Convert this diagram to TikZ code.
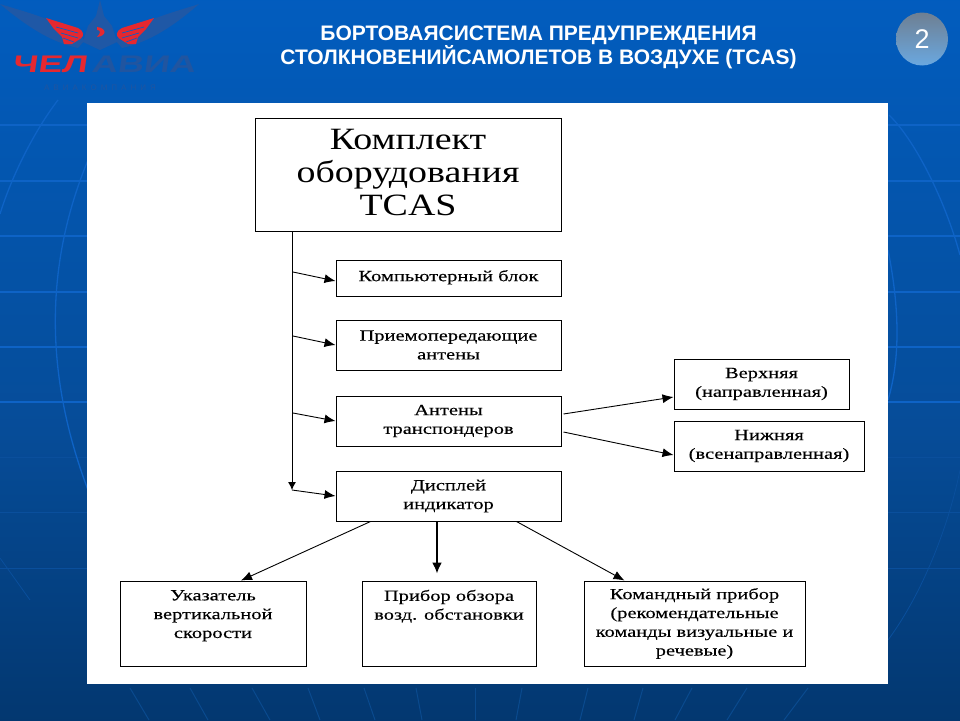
\documentclass[tikz,border=0pt]{standalone}
\usepackage{fontspec}
\setmainfont{Liberation Serif}
\newfontfamily\smallserif[FakeStretch=1.32,FakeBold=0.25]{Liberation Serif}
\newfontfamily\bigserif[FakeStretch=1.224]{Liberation Serif}
\newfontfamily\titlesans{Liberation Sans}
\newfontfamily\logosans[FakeStretch=1.5,FakeSlant=0.15]{Liberation Sans}
\usetikzlibrary{arrows.meta,calc}
\definecolor{bgtop}{HTML}{0062CB}
\definecolor{bgmid}{HTML}{064C98}
\definecolor{bgbot}{HTML}{012A56}
\definecolor{logored}{HTML}{E6282F}
\definecolor{logodark}{HTML}{2055A0}
\definecolor{logowing}{HTML}{1F58A6}
\definecolor{gridline}{HTML}{0E63C6}
\definecolor{gridmid}{HTML}{0A4F9C}
\definecolor{gridlow}{HTML}{0A4A8E}
\definecolor{markertop}{HTML}{6E7F92}
\definecolor{markerbot}{HTML}{6AA8E0}
\pgfdeclareverticalshading{slidebg}{100bp}{
  color(0bp)=(bgbot); color(12bp)=(bgbot); color(45bp)=(bgmid); color(85bp)=(bgtop); color(100bp)=(bgtop)}
\tikzset{
  x=1pt,y=-1pt,
  panelbox/.style={draw=black,fill=white,line width=1pt,inner sep=0pt,align=center,font=\smallserif\fontsize{15.5}{18.8}\selectfont},
  arrowline/.style={draw=black,line width=0.9pt,-{Latex[length=11pt,width=9pt]}},
  trunkline/.style={draw=black,line width=0.9pt,-{Latex[length=8pt,width=8pt]}},
  heavyarrow/.style={draw=black,line width=1.9pt,-{Latex[length=11pt,width=10pt]}},
  gridh/.style={draw=gridline,line width=1.3pt},
  gridc/.style={draw=gridline,line width=1.3pt},
  gridd/.style={draw=gridmid,line width=0.8pt},
  feather/.style={draw=bgtop,line width=0.7pt},
}
\begin{document}
\begin{tikzpicture}
\useasboundingbox (0,0) rectangle (960,720);
\begin{scope}
\clip (0,0) rectangle (960,720);
\shade[shading=slidebg] (0,0) rectangle (960,720);
% globe lines of the background
\foreach \yy in {125,181,236,292,347,402} \draw[gridh] (0,\yy) -- (960,\yy);
\foreach \yy in {457,512,568} \draw[gridd] (0,\yy) -- (960,\yy);
\draw[gridc] (0,214) .. controls (12,175) and (35,130) .. (58,100);
\draw[gridc] (88,160) .. controls (55,240) and (35,350) .. (88,490);
\draw[gridc] (889,115) .. controls (915,140) and (945,200) .. (960,255);
\draw[gridc] (888,250) .. controls (900,310) and (900,360) .. (888,400);
\draw[gridd] (888,640) .. controls (925,590) and (950,520) .. (960,470);
\draw[gridd] (0,558) -- (30,600);
\foreach \xa/\xb in {130/149,190/208,252/270,308/320,364/375,416/422,475/475,522/516,588/580,643/634,692/675,747/727,808/784}
  \draw[gridlow,line width=1pt] (\xa,688) -- (\xb,720);
% logo
\fill[logowing] (0,4) .. controls (25,12) and (60,20) .. (85,40) -- (78,48) .. controls (50,42) and (25,25) .. cycle;
\fill[logowing] (199,4) .. controls (175,12) and (140,20) .. (115,40) -- (122,48) .. controls (150,42) and (175,25) .. cycle;
\fill[logowing] (100,0) -- (104,16) -- (112,26) -- (117,42) -- (100,50) -- (83,42) -- (88,26) -- (96,16) -- cycle;
\fill[logored] (46,18) -- (78,28) .. controls (84,31) and (85,36) .. (80,39) -- (72,44) -- (64,44) -- (62,37) -- (54,29) -- cycle;
\fill[logored] (154,18) -- (122,28) .. controls (116,31) and (115,36) .. (120,39) -- (128,44) -- (136,44) -- (138,37) -- (146,29) -- cycle;
\draw[feather] (56,27) -- (78,33) (61,33) -- (78,38) (63,38) -- (74,42);
\draw[feather] (144,27) -- (122,33) (139,33) -- (122,38) (137,38) -- (126,42);
\fill[logored] (97,27) .. controls (107,28) and (107,36) .. (97,37) .. controls (101,33) and (101,30) .. (97,30) -- cycle;
\node[anchor=base west,inner sep=0pt,text=logored] (logored) at (12,72) {\logosans\bfseries\fontsize{24}{24}\selectfont ЧЕЛ};
\node[anchor=base west,inner sep=0pt,text=logodark] (logodark) at (91,72) {\logosans\bfseries\fontsize{24}{24}\selectfont АВИА};
\node[anchor=base,inner sep=0pt,text=logodark] (logosub) at (100,90) {\titlesans\fontsize{8}{8}\selectfont А\,\,\,В\,\,\,И\,\,\,А\,\,\,К\,\,\,О\,\,\,М\,\,\,П\,\,\,А\,\,\,Н\,\,\,И\,\,\,Я};
\end{scope}
% title and page mark
\node[text=white,align=center,inner sep=0pt,font=\titlesans\bfseries\fontsize{21}{23}\selectfont] (title) at (538.5,47) {БОРТОВАЯСИСТЕМА ПРЕДУПРЕЖДЕНИЯ\\СТОЛКНОВЕНИЙСАМОЛЕТОВ В ВОЗДУХЕ (TCAS)};
\shade[top color=markertop,bottom color=markerbot] (922,39) ellipse [x radius=26,y radius=26.5];
\node[text=white,inner sep=0pt,font=\titlesans\fontsize{27}{27}\selectfont] (pagenum) at (922,39) {2};
% white panel
\fill[white] (87,103) rectangle (888,684);
% boxes
\node[panelbox,minimum width=306pt,minimum height=113pt,font=\bigserif\fontsize{31}{33}\selectfont] (main) at (408,174.5) {Комплект\\оборудования\\TCAS\\[-29pt]~};
\node[panelbox,minimum width=225pt,minimum height=36pt] (comp) at (448.5,278) {Компьютерный блок\\[-14pt]~};
\node[panelbox,minimum width=225pt,minimum height=50pt] (recv) at (448.5,345) {Приемопередающие\\антены};
\node[panelbox,minimum width=225pt,minimum height=50pt] (trans) at (448.5,421) {Антены\\транспондеров};
\node[panelbox,minimum width=225pt,minimum height=50pt] (disp) at (448.5,496) {Дисплей\\индикатор};
\node[panelbox,minimum width=175pt,minimum height=50pt] (upper) at (761.5,384) {Верхняя\\(направленная)};
\node[panelbox,minimum width=190pt,minimum height=50pt] (lower) at (769,446) {Нижняя\\(всенаправленная)};
\node[panelbox,minimum width=186pt,minimum height=85pt] (vsi) at (213,623.5) {Указатель\\вертикальной\\скорости\\~};
\node[panelbox,minimum width=174pt,minimum height=85pt] (traffic) at (449,623.5) {Прибор обзора\\возд. обстановки\\~\\~};
\node[panelbox,minimum width=221pt,minimum height=85pt] (cmd) at (694.5,623.5) {Командный прибор\\(рекомендательные\\команды визуальные и\\речевые)};
% connector points on the trunk
\coordinate (t0) at (292,231);
\coordinate (t1) at (293,272);
\coordinate (t2) at (293,336);
\coordinate (t3) at (293,413);
\coordinate (t4) at (292,490);
\draw[trunkline] (t0) -- (t4);
\draw[arrowline] (t1) -- ([yshift=-3pt]comp.west);
\draw[arrowline] (t2) -- (recv.west);
\draw[arrowline] (t3) -- (trans.west);
\draw[arrowline] (t4) -- (disp.west);
\draw[arrowline] ([xshift=2pt,yshift=7pt]trans.east) -- ([yshift=-13pt]upper.west);
\draw[arrowline] ([xshift=2pt,yshift=-11pt]trans.east) -- ([yshift=-9pt]lower.west);
\draw[arrowline] ([xshift=-78pt]disp.south) -- ([xshift=28pt]vsi.north);
\draw[heavyarrow] ([xshift=-11.5pt]disp.south) -- ([xshift=-12pt,yshift=7pt]traffic.north);
\draw[arrowline] ([xshift=68pt]disp.south) -- ([xshift=-70pt]cmd.north);
\end{tikzpicture}
\end{document}
